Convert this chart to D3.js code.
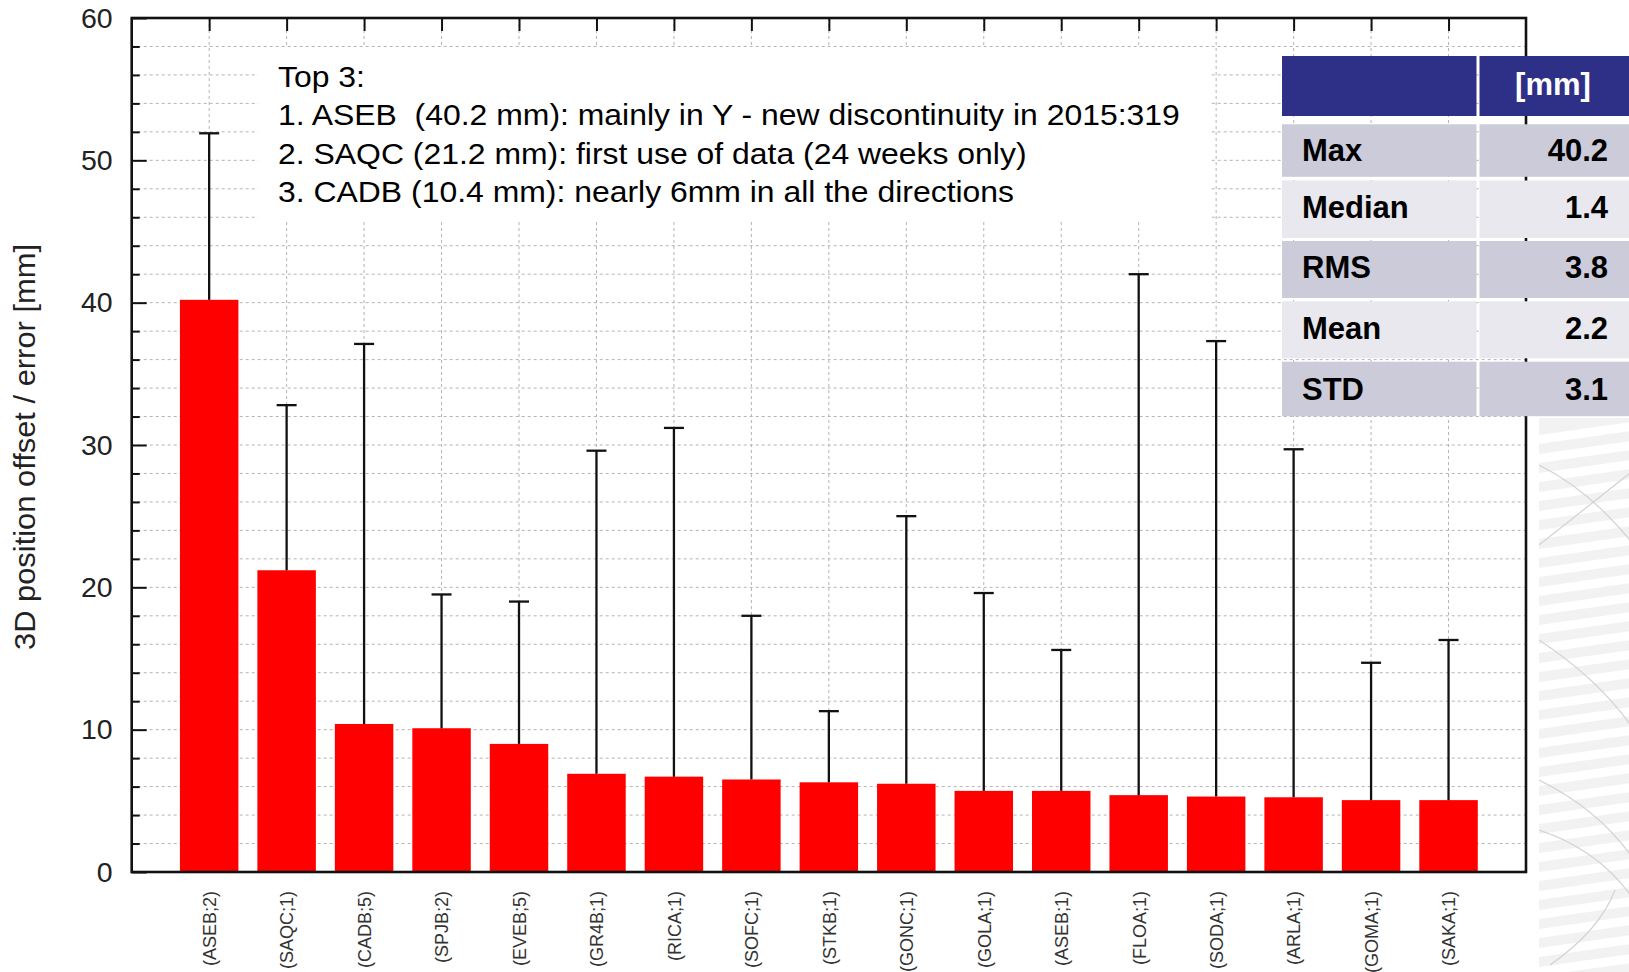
<!DOCTYPE html>
<html>
<head>
<meta charset="utf-8">
<script src="https://cdn.jsdelivr.net/npm/d3@7"></script>
<style>
  body { margin: 0; background: #fff; }
  svg { display: block; font-family: "Liberation Sans", Arial, sans-serif; }
  text { white-space: pre; }
</style>
</head>
<body>
<script>
// station labels, 3D offsets and error bar half-lengths [mm]
const stations = ["(ASEB;2)", "(SAQC;1)", "(CADB;5)", "(SPJB;2)", "(EVEB;5)", "(GR4B;1)", "(RICA;1)", "(SOFC;1)", "(STKB;1)", "(GONC;1)", "(GOLA;1)", "(ASEB;1)", "(FLOA;1)", "(SODA;1)", "(ARLA;1)", "(GOMA;1)", "(SAKA;1)"];
const offsets = [40.2, 21.2, 10.4, 10.1, 9.0, 6.9, 6.7, 6.5, 6.3, 6.2, 5.7, 5.7, 5.4, 5.3, 5.25, 5.05, 5.05];
const errors = [11.7, 11.6, 26.7, 9.4, 10.0, 22.7, 24.5, 11.5, 5.0, 18.8, 13.9, 9.9, 36.6, 32.0, 24.45, 9.65, 11.25];

const yMajor = [0, 10, 20, 30, 40, 50, 60];
const yMinor = [2, 4, 6, 8, 12, 14, 16, 18, 22, 24, 26, 28, 32, 34, 36, 38, 42, 44, 46, 48, 52, 54, 56, 58];

const notes = [
  "Top 3:",
  "1. ASEB  (40.2 mm): mainly in Y - new discontinuity in 2015:319",
  "2. SAQC (21.2 mm): first use of data (24 weeks only)",
  "3. CADB (10.4 mm): nearly 6mm in all the directions"
];

const statHeader = "[mm]";
const statNames = ["Max", "Median", "RMS", "Mean", "STD"];
const statValues = ["40.2", "1.4", "3.8", "2.2", "3.1"];

const W = 1629, H = 972;
const pLeft = 131.7, pRight = 1526, pTop = 18, pBottom = 872;

const svg = d3.select("body").append("svg").attr("width", W).attr("height", H);

// faint background texture on the right edge (slide background)
const clip = svg.append("clipPath").attr("id", "deco");
clip.append("rect").attr("x", 1539).attr("y", 418).attr("width", 95).attr("height", 560);
const deco = svg.append("g").attr("clip-path", "url(#deco)");
deco.append("rect").attr("x", 1539).attr("y", 418).attr("width", 95).attr("height", 560).attr("fill", "#f2f2f2");
for (let k = 0; k < 30; k++) {
  const yy = 440 + k * 19;
  deco.append("line").attr("x1", 1535).attr("y1", yy).attr("x2", 1634).attr("y2", yy - 14)
    .attr("stroke", "#fff").attr("stroke-width", 9);
}
const arcs = ["M1539,465 Q1590,490 1634,545", "M1539,545 L1634,470", "M1539,640 Q1600,680 1634,730",
  "M1539,780 Q1600,810 1634,860", "M1539,830 Q1600,850 1634,900", "M1550,965 Q1600,930 1615,890"];
deco.selectAll("path").data(arcs).join("path").attr("d", d => d)
  .attr("fill", "none").attr("stroke", "#d4d4d4").attr("stroke-width", 1.3);

const x = d3.scalePoint().domain(stations).range([pLeft, pRight]).padding(1);
const y = d3.scaleLinear().domain([0, 60]).range([pBottom, pTop]);
const barW = x.step() * 0.755;

// grid
svg.append("g").selectAll("line").data(yMinor.concat([10, 20, 30, 40, 50])).join("line")
  .attr("x1", pLeft).attr("x2", pRight).attr("y1", d => y(d)).attr("y2", d => y(d))
  .attr("stroke", "#b4b4b4").attr("stroke-width", 1).attr("stroke-dasharray", "3,3");
svg.append("g").selectAll("line").data(stations).join("line")
  .attr("x1", d => x(d)).attr("x2", d => x(d)).attr("y1", pTop).attr("y2", pBottom)
  .attr("stroke", "#b4b4b4").attr("stroke-width", 1).attr("stroke-dasharray", "3,3");

// annotation box hides the grid behind the text
svg.append("rect").attr("x", 258).attr("y", 48).attr("width", 952).attr("height", 172).attr("fill", "#fff");

// bars
svg.append("g").selectAll("rect").data(stations).join("rect")
  .attr("x", d => x(d) - barW / 2).attr("width", barW)
  .attr("y", (d, i) => y(offsets[i])).attr("height", (d, i) => y(0) - y(offsets[i]))
  .attr("fill", "#ff0000");

// error bars
const eb = svg.append("g").attr("stroke", "#111").attr("stroke-width", 2.3);
eb.selectAll("line.v").data(stations).join("line").attr("class", "v")
  .attr("x1", d => x(d)).attr("x2", d => x(d))
  .attr("y1", (d, i) => y(offsets[i])).attr("y2", (d, i) => y(offsets[i] + errors[i]));
eb.selectAll("line.c").data(stations).join("line").attr("class", "c")
  .attr("x1", d => x(d) - 10).attr("x2", d => x(d) + 10)
  .attr("y1", (d, i) => y(offsets[i] + errors[i])).attr("y2", (d, i) => y(offsets[i] + errors[i]));

// axes
const axL = svg.append("g").attr("transform", `translate(${pLeft},0)`)
  .call(d3.axisLeft(y).tickValues(yMajor).tickSizeInner(-15).tickSizeOuter(0).tickPadding(19));
axL.selectAll("text").attr("font-size", 28.5).attr("fill", "#222").attr("font-family", "Liberation Sans, Arial");
const axLm = svg.append("g").attr("transform", `translate(${pLeft},0)`)
  .call(d3.axisLeft(y).tickValues(yMinor).tickSizeInner(-8).tickSizeOuter(0).tickFormat(""));
[axL, axLm].forEach(a => { a.select(".domain").remove(); a.selectAll("line").attr("stroke", "#111").attr("stroke-width", 2); });

const axT = svg.append("g").attr("transform", `translate(0,${pTop})`)
  .call(d3.axisTop(x).tickSizeInner(-13).tickSizeOuter(0).tickFormat(""));
axT.select(".domain").remove();
axT.selectAll("line").attr("stroke", "#111").attr("stroke-width", 2);

const axB = svg.append("g").attr("transform", `translate(0,${pBottom})`)
  .call(d3.axisBottom(x).tickSize(0));
axB.select(".domain").remove();
axB.selectAll("text")
  .attr("transform", "rotate(-90)").attr("x", -19).attr("y", 0).attr("dy", "0.35em")
  .attr("text-anchor", "end").attr("font-size", 18).attr("fill", "#333")
  .attr("font-family", "Liberation Sans, Arial");

// frame
svg.append("rect").attr("x", pLeft).attr("y", pTop).attr("width", pRight - pLeft).attr("height", pBottom - pTop)
  .attr("fill", "none").attr("stroke", "#111").attr("stroke-width", 2.6);

// y axis title
svg.append("text").attr("transform", `translate(35,447) rotate(-90)`)
  .attr("text-anchor", "middle").attr("font-size", 30).attr("fill", "#222")
  .attr("textLength", 406).attr("lengthAdjust", "spacingAndGlyphs")
  .text("3D position offset / error [mm]");

// annotation text
const note = svg.append("g");
const noteY = [87, 125.5, 164, 202.5];
note.selectAll("text").data(notes).join("text")
  .attr("x", 0).attr("y", (d, i) => noteY[i]).attr("font-size", 30).attr("fill", "#000")
  .text(d => d);
const natural = note.selectAll("text").nodes()[1].getComputedTextLength();
note.attr("transform", `translate(278,0) scale(${902 / natural},1)`);

// statistics table
const tb = svg.append("g").attr("font-weight", "bold").attr("font-size", 31);
const tl = 1282, tm = 1476.5, tr = 1640;
tb.append("rect").attr("x", tl).attr("y", 56).attr("width", tm - tl).attr("height", 60).attr("fill", "#2e3087");
tb.append("rect").attr("x", tm + 3).attr("y", 56).attr("width", tr - tm - 3).attr("height", 60).attr("fill", "#2e3087");
tb.append("text").attr("x", 1553).attr("y", 95).attr("text-anchor", "middle").attr("fill", "#fff").text(statHeader);

const rowTop = [124.3, 180.5, 241, 301.3, 361.7];
const rowH = [52.5, 57.5, 57, 57, 54.5];
const rows = tb.selectAll("g.row").data(statNames).join("g").attr("class", "row");
rows.append("rect").attr("x", tl).attr("y", (d, i) => rowTop[i]).attr("width", tm - tl).attr("height", (d, i) => rowH[i])
  .attr("fill", (d, i) => i % 2 ? "#e8e8ee" : "#cbcbda");
rows.append("rect").attr("x", tm + 3).attr("y", (d, i) => rowTop[i]).attr("width", tr - tm - 3).attr("height", (d, i) => rowH[i])
  .attr("fill", (d, i) => i % 2 ? "#e8e8ee" : "#cbcbda");
const rowBase = [160.7, 218.3, 278.3, 339.3, 400];
rows.append("text").attr("x", 1302).attr("y", (d, i) => rowBase[i]).attr("fill", "#000").text(d => d);
rows.append("text").attr("x", 1608).attr("y", (d, i) => rowBase[i]).attr("text-anchor", "end").attr("fill", "#000")
  .text((d, i) => statValues[i]);
</script>
</body>
</html>
